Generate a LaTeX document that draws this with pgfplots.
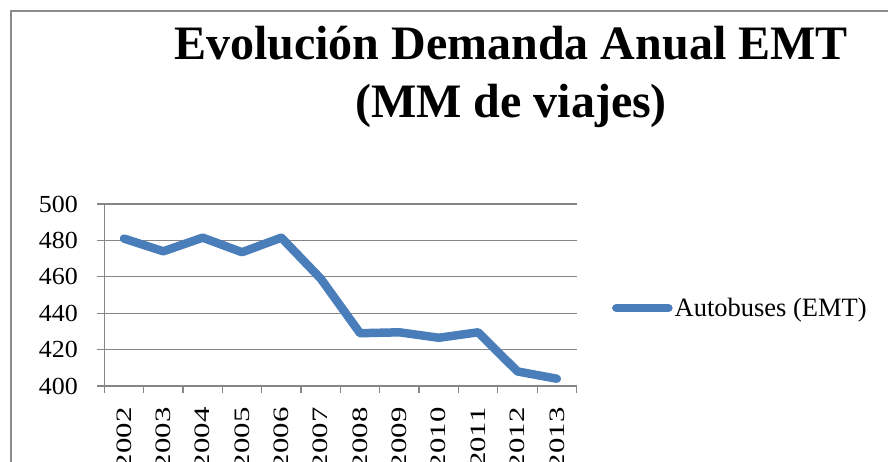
\documentclass[border=0pt]{standalone}
\usepackage{fontspec}
\setmainfont{Liberation Serif}
\usepackage{graphicx}
\usepackage{pgfplots}
\pgfplotsset{compat=1.18}
\definecolor{emtblue}{RGB}{74,126,187}
\definecolor{gridgray}{RGB}{134,134,134}
\definecolor{framegray}{RGB}{140,140,140}
\newcommand\sx[1]{\scalebox{1.4}[1]{#1}}
\newcommand\sy[1]{\scalebox{1.06}[1]{#1}}
\begin{document}
\begin{tikzpicture}[x=1pt,y=1pt]
\path[use as bounding box] (0,0) rectangle (888,462);
\draw[framegray, line width=1.3pt] (11,451) rectangle (905,-20);
\node[anchor=base, inner sep=0pt, font=\bfseries\fontsize{48}{56}\selectfont] at (511,402.7) {Evolución Demanda Anual EMT};
\node[anchor=base, inner sep=0pt, font=\bfseries\fontsize{48}{56}\selectfont] at (511,344) {(MM de viajes)};
\begin{axis}[
  at={(104.3pt,76pt)}, anchor=south west, scale only axis,
  width=472.2pt, height=182pt,
  xmin=-0.5, xmax=11.5, ymin=400, ymax=500,
  xtick={-0.5,0.5,...,11.5}, x tick label as interval,
  xticklabels={\sx{2002},\sx{2003},\sx{2004},\sx{2005},\sx{2006},\sx{2007},\sx{2008},\sx{2009},\sx{2010},\sx{2011},\sx{2012},\sx{2013}},
  ytick={400,420,...,500},
  yticklabels={\sy{400},\sy{420},\sy{440},\sy{460},\sy{480},\sy{500}},
  axis x line*=bottom, axis y line*=left,
  axis line style={gridgray, line width=1.3pt, -},
  ymajorgrids, grid style={gridgray, line width=1.3pt},
  tick align=outside, major tick length=7pt,
  tick style={gridgray, line width=1.3pt},
  xticklabel style={rotate=90, anchor=east, font=\fontsize{22}{26}\selectfont},
  yticklabel style={font=\fontsize{24.5}{28}\selectfont},
  xticklabel shift=11pt, yticklabel shift=16pt,
  clip=false,
  legend style={at={(1.075,0.4286)}, anchor=west, draw=none, fill=none, inner sep=0pt,
    font=\fontsize{26.5}{30}\selectfont, legend cell align=left},
  legend image code/.code={\draw[#1] (4pt,0pt) -- (56pt,0pt);},
]
\addplot[emtblue, line width=8.5pt, line join=round, line cap=round]
  coordinates {(0,481)(1,474)(2,481.5)(3,473.5)(4,481.5)(5,459)(6,429)(7,429.5)(8,426.5)(9,429.5)(10,408)(11,404)};
\addlegendentry{Autobuses (EMT)}
\end{axis}
\end{tikzpicture}
\end{document}
